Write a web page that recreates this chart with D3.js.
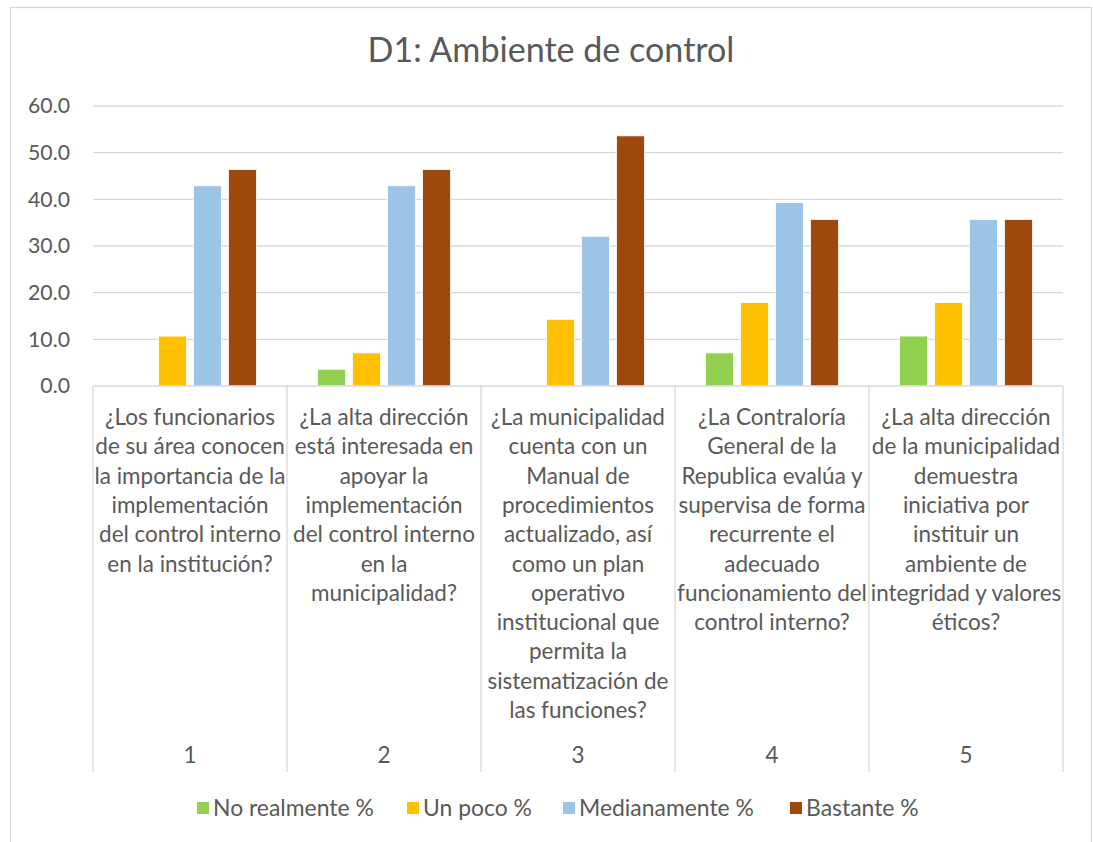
<!DOCTYPE html>
<html><head><meta charset="utf-8">
<script src="https://cdn.jsdelivr.net/npm/d3@7"></script>
<style>body{margin:0;background:#fff}svg text{font-family:Lato,"Open Sans",sans-serif;fill:#595959}</style>
</head><body>
<svg id="c" width="1093" height="842"></svg>
<script>
const categories = ["1","2","3","4","5"];
const categoryLabels = [
  ["¿Los funcionarios","de su área conocen","la importancia de la","implementación","del control interno","en la institución?"],
  ["¿La alta dirección","está interesada en","apoyar la","implementación","del control interno","en la","municipalidad?"],
  ["¿La municipalidad","cuenta con un","Manual de","procedimientos","actualizado, así","como un plan","operativo","institucional que","permita la","sistematización de","las funciones?"],
  ["¿La Contraloría","General de la","Republica evalúa y","supervisa de forma","recurrente el","adecuado","funcionamiento del","control interno?"],
  ["¿La alta dirección","de la municipalidad","demuestra","iniciativa por","instituir un","ambiente de","integridad y valores","éticos?"]
];
const seriesNames = ["No realmente %","Un poco %","Medianamente %","Bastante %"];
const noRealmente  = [0, 3.6, 0, 7.1, 10.7];
const unPoco       = [10.7, 7.1, 14.3, 17.9, 17.9];
const medianamente = [42.9, 42.9, 32.1, 39.3, 35.7];
const bastante     = [46.4, 46.4, 53.6, 35.7, 35.7];
const yTicks = [0,10,20,30,40,50,60];
const title = "D1: Ambiente de control";
const colors = ["#92d050","#ffc000","#9dc3e6","#9e480e"];

(function(){
const seriesValues = [noRealmente, unPoco, medianamente, bastante];
const svg = d3.select("#c");
const pL = 93, pR = 1063, pT = 106, pB = 386;

svg.append("rect").attr("x",10.5).attr("y",7.5).attr("width",1081).attr("height",850)
  .attr("fill","none").attr("stroke","#d9d9d9").attr("stroke-width",1.3);

const y = d3.scaleLinear().domain([0,60]).range([pB, pT]);
const x0 = d3.scaleBand().domain(categories).range([pL,pR]).padding(0);
const x1 = d3.scaleBand().domain(seriesNames).range([0,140]).paddingInner(0.2).paddingOuter(0.1);
const groupOffset = (x0.bandwidth()-140)/2;

function fit(sel, target, base){
  sel.style("font-size", base+"px");
  const w = sel.node().getComputedTextLength();
  return base*target/w;
}
const probe = svg.append("text").text("funcionamiento del");
const catSize = fit(probe, 190, 24);
probe.text("60.0"); const ySize = fit(probe, 42, 24);
probe.text(title); const tSize = fit(probe, 367, 36);
probe.text("Medianamente %"); const lSize = fit(probe, 175, 24);
probe.remove();

svg.append("g").selectAll("line").data(yTicks.filter(d=>d>0)).join("line")
  .attr("x1",pL).attr("x2",pR).attr("y1",d=>y(d)).attr("y2",d=>y(d))
  .attr("stroke","#d9d9d9").attr("stroke-width",1.3);

svg.append("g").selectAll("text").data(yTicks).join("text")
  .attr("x",70).attr("y",d=>y(d)+ySize*0.34).attr("text-anchor","end")
  .style("font-size",ySize+"px").text(d=>d.toFixed(1));

const groups = svg.append("g").selectAll("g").data(categories).join("g")
  .attr("transform",d=>`translate(${x0(d)+groupOffset},0)`);
groups.selectAll("rect").data((d,i)=>seriesNames.map((s,j)=>({s,j,v:seriesValues[j][i]})).filter(e=>e.v>0)).join("rect")
  .attr("x",d=>x1(d.s)).attr("width",x1.bandwidth())
  .attr("y",d=>y(d.v)).attr("height",d=>y(0)-y(d.v))
  .attr("fill",d=>colors[d.j]).attr("stroke","#fff").attr("stroke-width",0.8);

svg.append("line").attr("x1",pL).attr("x2",pR).attr("y1",pB).attr("y2",pB)
  .attr("stroke","#d9d9d9").attr("stroke-width",1.3);
const bounds = categories.map(c=>x0(c)).concat([pR]);
svg.append("g").selectAll("line").data(bounds).join("line")
  .attr("x1",d=>d).attr("x2",d=>d).attr("y1",pB).attr("y2",772)
  .attr("stroke","#d9d9d9").attr("stroke-width",1.3);

categories.forEach((c,i)=>{
  const cx = x0(c)+x0.bandwidth()/2;
  const t = svg.append("text").attr("text-anchor","middle").style("font-size",catSize+"px");
  categoryLabels[i].forEach((ln,k)=>{
    t.append("tspan").attr("x",cx).attr("y",425+k*29.3).text(ln);
  });
  svg.append("text").attr("x",cx).attr("y",763).attr("text-anchor","middle")
    .style("font-size",catSize+"px").text(c);
});

svg.append("text").attr("x",551).attr("y",62).attr("text-anchor","middle")
  .style("font-size",tSize+"px").text(title);

const legendX = [197,407,563,790];
const lg = svg.append("g").selectAll("g").data(seriesNames).join("g")
  .attr("transform",(d,i)=>`translate(${legendX[i]},0)`);
lg.append("rect").attr("x",0).attr("y",802).attr("width",12).attr("height",12)
  .attr("fill",(d,i)=>colors[i]);
lg.append("text").attr("x",16).attr("y",816).style("font-size",lSize+"px").text(d=>d);
})();
</script>
</body></html>
